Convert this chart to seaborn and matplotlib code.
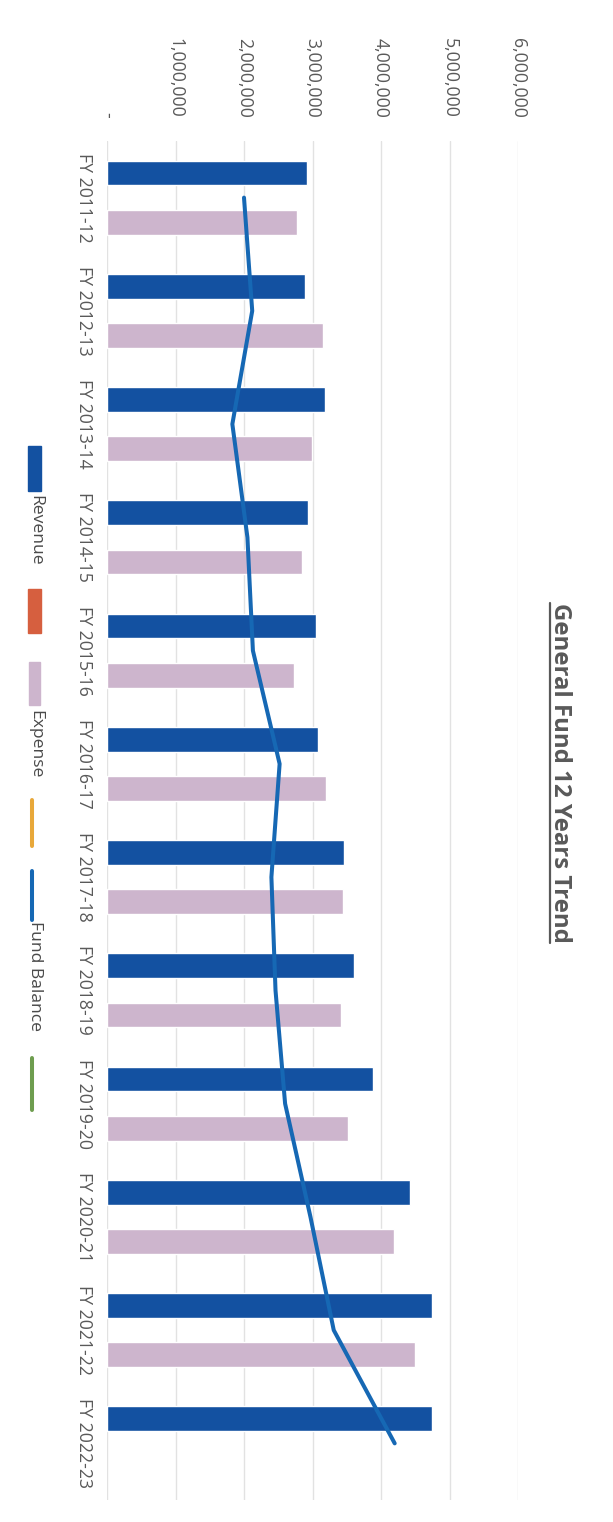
import matplotlib
matplotlib.use('Agg')

import matplotlib.pyplot as plt
import seaborn as sns
import numpy as np
import pandas as pd
from matplotlib.lines import Line2D
from matplotlib.patches import Rectangle

# ===== STYLE =====
sns.set_theme(style="whitegrid")
plt.rcParams['font.family'] = ['Open Sans', 'DejaVu Sans']

# ===== DATA =====
years = ["FY 2011-12", "FY 2012-13", "FY 2013-14", "FY 2014-15", "FY 2015-16", "FY 2016-17",
         "FY 2017-18", "FY 2018-19", "FY 2019-20", "FY 2020-21", "FY 2021-22", "FY 2022-23"]
revenue = [2920000, 2890000, 3180000, 2930000, 3050000, 3080000,
           3460000, 3600000, 3880000, 4430000, 4750000, 4750000]
# no expense bar for FY 2022-23
expense_years = years[:11]
expense = [2780000, 3150000, 2990000, 2840000, 2730000, 3200000,
           3440000, 3410000, 3520000, 4190000, 4490000]
fund_balance = [2000000, 2120000, 1830000, 2050000, 2130000, 2520000,
                2400000, 2460000, 2600000, 2970000, 3310000, 4200000]

value_ticks = [0, 1000000, 2000000, 3000000, 4000000, 5000000, 6000000]
value_labels = ["-", "1,000,000", "2,000,000", "3,000,000", "4,000,000", "5,000,000", "6,000,000"]

# the middle (orange) series is in the legend but has no bars
series_order = ["Revenue", "", "Expense"]
bar_colors = {"Revenue": "#1351a1", "": "#d65f3f", "Expense": "#cdb5cd"}
line_color = "#1668b4"
extra_line_colors = ["#e8a83a", "#6e9d4f"]

df = pd.DataFrame({
    "year": years + expense_years,
    "series": ["Revenue"] * len(years) + ["Expense"] * len(expense_years),
    "value": revenue + expense,
})

# ===== FIGURE (page is rotated 90 deg clockwise) =====
W, H = 613, 1522
fig = plt.figure(figsize=(W / 100, H / 100), dpi=100)
fig.patch.set_facecolor("white")
ax = fig.add_axes([107 / W, 1 - 1500 / H, (518 - 107) / W, (1500 - 141) / H])

sns.barplot(data=df, x="value", y="year", hue="series", hue_order=series_order,
            order=years, palette=bar_colors, orient="h", width=0.654,
            saturation=1, legend=False, errorbar=None, ax=ax)

sns.lineplot(x=fund_balance, y=np.arange(len(years)), orient="y", sort=False,
             color=line_color, linewidth=2.9, errorbar=None, ax=ax, zorder=5)

ax.set_xlim(0, 6000000)
ax.set_ylim(len(years) - 0.5, -0.5)
ax.set_xlabel("")
ax.set_ylabel("")

tick_color = "#595959"
ax.xaxis.tick_top()
ax.set_xticks(value_ticks)
ax.set_xticklabels(value_labels, rotation=-90, ha="center", va="bottom",
                   color=tick_color, fontsize=12.7)
ax.tick_params(axis="x", length=0, pad=16.5)
ax.set_yticks(range(len(years)))
ax.set_yticklabels(years, rotation=-90, ha="right", va="center",
                   color=tick_color, fontsize=12.7)
ax.tick_params(axis="y", length=0, pad=10)

ax.grid(axis="x", color="#e2e2e2", linewidth=1)
ax.grid(axis="y", visible=False)
ax.set_axisbelow(True)
for s in ax.spines.values():
    s.set_visible(False)


def fx(px):
    return px / W


def fy(py):
    return 1 - py / H


# ===== TITLE (rotated, underlined) =====
title = fig.text(fx(560), fy(773), "General Fund 12 Years Trend", rotation=-90,
                 ha="center", va="center", fontsize=17.3, fontweight="bold",
                 color="#595959")
fig.canvas.draw()
bb = title.get_window_extent()
ux = bb.x0 + 1.5
fig.add_artist(Line2D([ux / W, ux / W], [bb.y0 / H, bb.y1 / H],
                      transform=fig.transFigure, color="#595959", linewidth=1.6))

# ===== LEGEND (rotated, drawn by hand) =====
legend_text = "#4a4a4a"
fig.add_artist(Rectangle((fx(28), fy(491)), 13 / W, 45 / H, transform=fig.transFigure,
                         color=bar_colors["Revenue"]))
fig.text(fx(35), fy(495), "Revenue", rotation=-90, ha="center", va="top",
         fontsize=12.6, color=legend_text)
fig.add_artist(Rectangle((fx(28), fy(633)), 13 / W, 44 / H, transform=fig.transFigure,
                         color=bar_colors[""]))
fig.add_artist(Rectangle((fx(29), fy(705)), 11 / W, 43 / H, transform=fig.transFigure,
                         color=bar_colors["Expense"]))
fig.text(fx(35), fy(710), "Expense", rotation=-90, ha="center", va="top",
         fontsize=12.6, color=legend_text)
fig.add_artist(Line2D([fx(32), fx(32)], [fy(800), fy(846)], transform=fig.transFigure,
                      color=extra_line_colors[0], linewidth=2.9))
fig.add_artist(Line2D([fx(32), fx(32)], [fy(871), fy(920)], transform=fig.transFigure,
                      color=line_color, linewidth=2.9))
fig.text(fx(35), fy(921), "Fund Balance", rotation=-90, ha="center", va="top",
         fontsize=12.6, color=legend_text)
fig.add_artist(Line2D([fx(32), fx(32)], [fy(1058), fy(1110)], transform=fig.transFigure,
                      color=extra_line_colors[1], linewidth=2.9))

fig.savefig("out.png", dpi=100)
plt.close()
